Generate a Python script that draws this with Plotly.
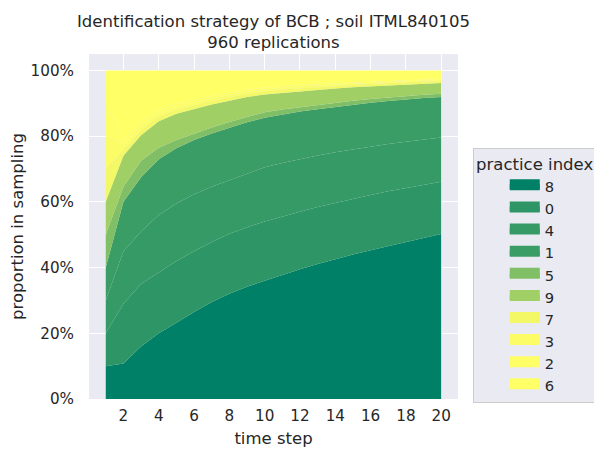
import plotly.graph_objects as go

time_steps = list(range(1, 21))
practices = ["8", "0", "4", "1", "5", "9", "7", "3", "2", "6"]

# proportions (%) per practice index, per time step
p8 = [10, 10.8, 16, 20, 23.2, 26.5, 29.5, 32, 34.2, 36, 37.8, 39.5, 41.1, 42.6, 44, 45.3, 46.6, 47.8, 49, 50.2]
p0 = [10, 18.2, 19, 18.5, 18.8, 18.5, 18.3, 18.3, 18.1, 18, 17.8, 17.5, 17.3, 17.1, 17, 16.8, 16.6, 16.4, 16.2, 15.9]
p4 = [10, 16, 16, 17.5, 17.5, 17.3, 16.8, 16.3, 16.3, 16.5, 16.2, 16, 15.7, 15.4, 15, 14.7, 14.4, 14.1, 13.8, 13.5]
p1 = [10, 15, 16.5, 17, 16.8, 16.5, 16.2, 16, 15.6, 15.1, 14.8, 14.5, 14.1, 13.8, 13.6, 13.4, 13.1, 12.9, 12.6, 12.3]
p5 = [10, 4.6, 5, 3.5, 2.5, 2, 1.8, 1.7, 1.7, 1.7, 1.5, 1.3, 1.3, 1.2, 1.2, 1.1, 1.1, 1, 1, 1]
p9 = [10, 9.4, 7.8, 8, 8, 7.5, 7, 6.5, 6, 5.4, 5.1, 4.9, 4.6, 4.4, 4.1, 3.9, 3.7, 3.6, 3.4, 3.3]
p7 = [10, 1.7, 1.5, 1.5, 1.2, 1.2, 1.2, 1.1, 1, 1, 1, 0.9, 0.9, 0.8, 0.7, 0.7, 0.7, 0.6, 0.6, 0.6]
p3 = [10, 1.5, 1.2, 1, 0.9, 0.8, 0.7, 0.6, 0.6, 0.5, 0.5, 0.5, 0.4, 0.4, 0.4, 0.4, 0.3, 0.3, 0.3, 0.3]
p2 = [10, 1.5, 1.2, 1, 0.9, 0.8, 0.7, 0.6, 0.6, 0.5, 0.5, 0.5, 0.4, 0.4, 0.4, 0.4, 0.3, 0.3, 0.3, 0.3]
p6 = [10, 21.3, 15.8, 12, 10.2, 8.9, 7.8, 6.9, 5.9, 5.3, 4.8, 4.4, 4.2, 3.9, 3.6, 3.3, 3.2, 3.0, 2.8, 2.6]

series = [p8, p0, p4, p1, p5, p9, p7, p3, p2, p6]
colors = ["#008066", "#2e9666", "#359a66", "#3b9d66", "#80bf66",
          "#a0cf66", "#f2f866", "#fcfd66", "#fefe66", "#ffff66"]

y_ticks = [0, 20, 40, 60, 80, 100]
y_ticktext = ["0%", "20%", "40%", "60%", "80%", "100%"]
x_ticks = list(range(2, 21, 2))

fig = go.Figure()
for name, vals, col in zip(practices, series, colors):
    fig.add_trace(go.Scatter(
        x=time_steps, y=vals, name=name, mode="lines", legendgroup=name,
        stackgroup="one", line=dict(width=0, color=col), showlegend=False,
        fillcolor=col, hoverinfo="x+y+name"))
# legend entries (rectangular swatches)
for name, col in zip(practices, colors):
    fig.add_trace(go.Scatter(
        x=[None], y=[None], name=name, mode="lines", legendgroup=name,
        fill="toself", fillcolor=col, line=dict(width=10, color=col), showlegend=True))

# the page body has an 8px margin, so the figure is drawn 8px in from the window corner
W, H = 594, 441
font_family = "DejaVu Sans"
fig.update_layout(
    width=W, height=H,
    margin=dict(l=81, r=144, t=46, b=49.5, autoexpand=False),
    paper_bgcolor="white", plot_bgcolor="#eaeaf2",
    font=dict(family=font_family, color="#262626", size=15),
    title=dict(text="Identification strategy of BCB ; soil ITML840105<br>960 replications",
               x=(81 + 450) / 2 / W, xanchor="center", y=1 - 19 / H, yanchor="middle",
               font=dict(size=16.5, color="#262626")),
    showlegend=True,
    legend=dict(
        title=dict(text="practice index", side="top center", font=dict(size=16.5)),
        traceorder="normal",
        x=1.04, xanchor="left", y=0.728, yanchor="top",
        bgcolor="#eaeaf2", bordercolor="#cccccc", borderwidth=1,
        font=dict(size=14.7), itemwidth=30, indentation=31,
    ),
)
fig.update_xaxes(range=[0.05, 20.95], tickvals=x_ticks, showgrid=True, gridcolor="white",
                 gridwidth=1, zeroline=False, showline=False, ticks="", automargin=False,
                 ticklabelstandoff=6,
                 title=dict(text="time step", font=dict(size=16.5), standoff=8),
                 tickfont=dict(size=15.2))
fig.update_yaxes(range=[0, 105], tickvals=y_ticks, ticktext=y_ticktext, showgrid=True,
                 gridcolor="white", gridwidth=1, zeroline=False, showline=False, ticks="",
                 automargin=False, ticklabelstandoff=14,
                 title=dict(text="proportion in sampling", font=dict(size=16.5), standoff=3),
                 tickfont=dict(size=15.2))

fig.write_html("out.html")
